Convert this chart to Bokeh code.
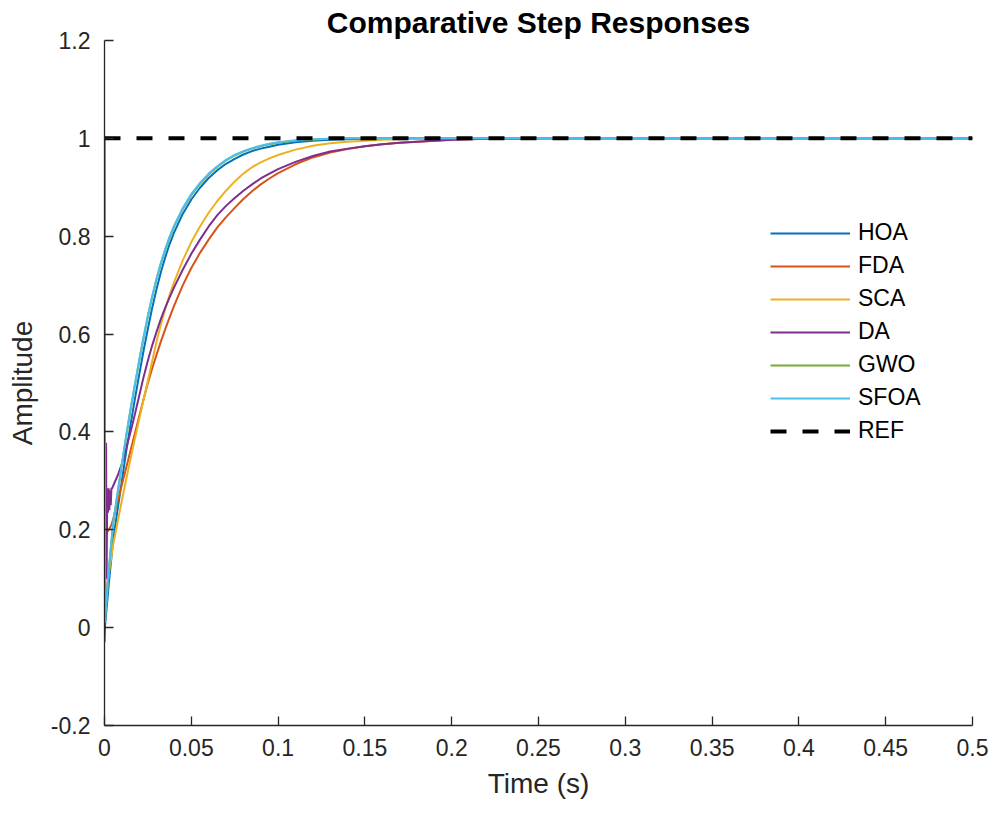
from bokeh.plotting import figure
from bokeh.models import FixedTicker, Legend, LegendItem, Range1d
from bokeh.embed import file_html
from bokeh.resources import INLINE

# ---- data ----
t_grid = [0.005, 0.0075, 0.01, 0.0125, 0.015, 0.0175, 0.02, 0.0225, 0.025, 0.0275,
          0.03, 0.0325, 0.035, 0.0375, 0.04,
          0.045, 0.05, 0.055, 0.06, 0.065, 0.07, 0.075, 0.08, 0.085, 0.09, 0.095, 0.1,
          0.11, 0.12, 0.13, 0.14, 0.15, 0.16, 0.17, 0.18, 0.19, 0.2,
          0.22, 0.25, 0.3, 0.4, 0.5]

hoa_t0 = [0.0, 0.0002, 0.0025]
hoa_v0 = [1.0, 0.0, 0.09]
hoa = [0.18, 0.24, 0.30, 0.36, 0.415, 0.467, 0.517, 0.566, 0.611, 0.654,
       0.692, 0.727, 0.757, 0.784, 0.807,
       0.845, 0.875, 0.899, 0.919, 0.935, 0.948, 0.958, 0.967, 0.974, 0.979, 0.983, 0.987,
       0.992, 0.995, 0.997, 0.998, 0.999, 1.0, 1.0, 1.0, 1.0, 1.0,
       1.0, 1.0, 1.0, 1.0, 1.0]

fda_t0 = [0.0, 0.0005, 0.0025, 0.004]
fda_v0 = [0.0, 0.19, 0.2, 0.21]
fda = [0.222, 0.257, 0.292, 0.327, 0.362, 0.397, 0.432, 0.467, 0.5, 0.53,
       0.558, 0.585, 0.61, 0.634, 0.657,
       0.699, 0.735, 0.766, 0.793, 0.818, 0.839, 0.858, 0.876, 0.892, 0.906, 0.918, 0.929,
       0.947, 0.961, 0.971, 0.978, 0.984, 0.988, 0.991, 0.993, 0.995, 0.997,
       0.999, 1.0, 1.0, 1.0, 1.0]

sca_t0 = [0.0, 0.0025]
sca_v0 = [0.04, 0.11]
sca = [0.17, 0.215, 0.26, 0.303, 0.345, 0.386, 0.426, 0.466, 0.505, 0.545,
       0.585, 0.62, 0.652, 0.68, 0.705,
       0.75, 0.788, 0.82, 0.848, 0.872, 0.893, 0.912, 0.928, 0.941, 0.951, 0.959, 0.966,
       0.977, 0.985, 0.99, 0.993, 0.995, 0.997, 0.998, 0.999, 1.0, 1.0,
       1.0, 1.0, 1.0, 1.0, 1.0]

da_t0 = [0.0, 0.0003, 0.0009, 0.0012, 0.0016, 0.002, 0.0024, 0.0028, 0.0032, 0.0036, 0.004, 0.0045]
da_v0 = [-0.03, 0.0, 0.378, 0.1, 0.285, 0.235, 0.285, 0.24, 0.28, 0.25, 0.285, 0.285]
da = [0.29, 0.31, 0.335, 0.367, 0.40, 0.436, 0.474, 0.512, 0.546, 0.577,
      0.605, 0.631, 0.654, 0.675, 0.695,
      0.731, 0.764, 0.793, 0.82, 0.843, 0.862, 0.878, 0.893, 0.906, 0.918, 0.928, 0.937,
      0.952, 0.964, 0.973, 0.979, 0.984, 0.988, 0.991, 0.993, 0.995, 0.997,
      0.999, 1.0, 1.0, 1.0, 1.0]

gwo_t0 = [0.0, 0.0002, 0.0025]
gwo_v0 = [1.0, 0.01, 0.118]
gwo = [0.213, 0.273, 0.333, 0.391, 0.445, 0.495, 0.545, 0.592, 0.636, 0.676,
       0.712, 0.744, 0.772, 0.797, 0.819,
       0.855, 0.884, 0.907, 0.926, 0.942, 0.955, 0.965, 0.973, 0.979, 0.984, 0.988, 0.991,
       0.995, 0.997, 0.999, 1.0, 1.0, 1.0, 1.0, 1.0, 1.0, 1.0,
       1.0, 1.0, 1.0, 1.0, 1.0]

sfoa_t0 = [0.0, 0.0002, 0.0025]
sfoa_v0 = [1.0, 0.01, 0.12]
sfoa = [0.215, 0.275, 0.335, 0.393, 0.447, 0.497, 0.547, 0.594, 0.638, 0.678,
        0.714, 0.746, 0.774, 0.799, 0.821,
        0.857, 0.886, 0.909, 0.928, 0.943, 0.956, 0.966, 0.974, 0.980, 0.985, 0.989, 0.992,
        0.996, 0.998, 0.999, 1.0, 1.0, 1.0, 1.0, 1.0, 1.0, 1.0,
        1.0, 1.0, 1.0, 1.0, 1.0]

ref_t = [0.0, 0.5]
ref_v = [1.0, 1.0]

names = ["HOA", "FDA", "SCA", "DA", "GWO", "SFOA"]
colors = ["#0072BD", "#D95319", "#EDB120", "#7E2F8E", "#77AC30", "#4DBEEE"]
series = [(hoa_t0, hoa_v0, hoa), (fda_t0, fda_v0, fda), (sca_t0, sca_v0, sca),
          (da_t0, da_v0, da), (gwo_t0, gwo_v0, gwo), (sfoa_t0, sfoa_v0, sfoa)]

y_ticks = [-0.2, 0, 0.2, 0.4, 0.6, 0.8, 1.0, 1.2]
y_labels = ["-0.2", "0", "0.2", "0.4", "0.6", "0.8", "1", "1.2"]
x_ticks = [0, 0.05, 0.1, 0.15, 0.2, 0.25, 0.3, 0.35, 0.4, 0.45, 0.5]
x_labels = ["0", "0.05", "0.1", "0.15", "0.2", "0.25", "0.3", "0.35", "0.4", "0.45", "0.5"]

FONT = "Liberation Sans"
AX = "#262626"

p = figure(width=990, height=808, output_backend="svg", toolbar_location=None,
           x_range=Range1d(0, 0.5), y_range=Range1d(-0.2, 1.2))
p.min_border_left = 104
p.min_border_right = 18
p.min_border_top = 40
p.min_border_bottom = 83
p.outline_line_color = None
p.xgrid.visible = False
p.ygrid.visible = False
p.background_fill_color = "white"
p.border_fill_color = "white"

p.title.text = "Comparative Step Responses"
p.title.align = "center"
p.title.text_font = FONT
p.title.text_font_style = "bold"
p.title.text_font_size = "30px"
p.title.text_color = "black"
p.title.standoff = 3

for ax in (p.xaxis[0], p.yaxis[0]):
    ax.axis_line_color = AX
    ax.axis_line_width = 1.3
    ax.major_tick_line_color = AX
    ax.major_tick_line_width = 1.3
    ax.major_tick_in = 9
    ax.major_tick_out = 0
    ax.minor_tick_line_color = None
    ax.major_label_text_font = FONT
    ax.major_label_text_font_size = "23px"
    ax.major_label_text_color = AX
    ax.axis_label_text_font = FONT
    ax.axis_label_text_font_size = "28px"
    ax.axis_label_text_font_style = "normal"
    ax.axis_label_text_color = AX

p.xaxis.ticker = FixedTicker(ticks=x_ticks)
p.xaxis.major_label_overrides = dict(zip(x_ticks, x_labels))
p.yaxis.ticker = FixedTicker(ticks=y_ticks)
p.yaxis.major_label_overrides = dict(zip(y_ticks, y_labels))
p.xaxis.axis_label = "Time (s)"
p.yaxis.axis_label = "Amplitude"
p.xaxis.major_label_standoff = 13
p.yaxis.major_label_standoff = 14
p.xaxis.axis_label_standoff = 9
p.yaxis.axis_label_standoff = 10

items = []
for name, col, (t0, v0, vals) in zip(names, colors, series):
    r = p.line(t0 + t_grid, v0 + vals, line_color=col, line_width=2)
    items.append(LegendItem(label=name, renderers=[r]))
r_ref = p.line(ref_t, ref_v, line_color="black", line_width=4, line_dash="16 16")
items.append(LegendItem(label="REF", renderers=[r_ref]))

legend = Legend(items=items, location=(666, 281))
legend.border_line_alpha = 0
legend.background_fill_alpha = 0
legend.glyph_width = 80
legend.glyph_height = 26
legend.label_height = 26
legend.spacing = 6
legend.padding = 0
legend.margin = 0
legend.label_standoff = 8
legend.label_text_font = FONT
legend.label_text_font_size = "23px"
legend.label_text_color = "black"
p.add_layout(legend)

open("out.html", "w").write(file_html(p, INLINE))
